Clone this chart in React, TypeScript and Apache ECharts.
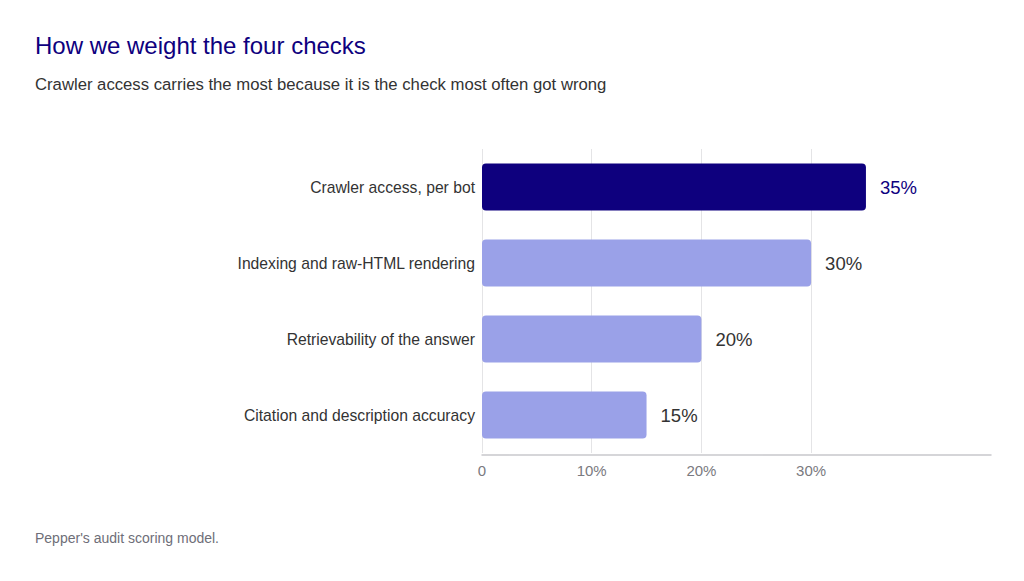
import { useEffect, useRef } from 'react';
import * as echarts from 'echarts';

const categories = [
  'Crawler access, per bot',
  'Indexing and raw-HTML rendering',
  'Retrievability of the answer',
  'Citation and description accuracy',
];
const weights = [35, 30, 20, 15];
const highlighted = [true, false, false, false];

const NAVY = '#0e007e';
const LIGHT = '#9aa1e8';
const GRID = '#e4e4e6';
const FONT = '"Liberation Sans", Arial, Helvetica, sans-serif';

export default function App() {
  const chartRef = useRef<HTMLDivElement>(null);

  useEffect(() => {
    if (!chartRef.current) return;
    const chart = echarts.init(chartRef.current, null, { renderer: 'svg' });

    const barData = weights.map((v, i) => ({
      value: v,
      itemStyle: { color: highlighted[i] ? NAVY : LIGHT },
      label: { color: highlighted[i] ? NAVY : '#333333' },
    }));

    const option: echarts.EChartsOption = {
      animation: false,
      backgroundColor: '#ffffff',
      textStyle: { fontFamily: FONT },
      title: [
        {
          text: 'How we weight the four checks',
          left: 35,
          top: 33,
          padding: 0,
          textStyle: { color: NAVY, fontSize: 24, fontWeight: 'normal', fontFamily: FONT },
        },
        {
          text: 'Crawler access carries the most because it is the check most often got wrong',
          left: 35,
          top: 76,
          padding: 0,
          textStyle: { color: '#333333', fontSize: 16.7, fontWeight: 'normal', fontFamily: FONT },
        },
        {
          text: "Pepper's audit scoring model.",
          left: 35,
          top: 531,
          padding: 0,
          textStyle: { color: '#6e6e78', fontSize: 14, fontWeight: 'normal', fontFamily: FONT },
        },
      ],
      grid: { left: 482, right: 33, top: 149, height: 304 },
      xAxis: {
        type: 'value',
        min: 0,
        max: 46.4,
        interval: 10,
        offset: 2,
        axisLine: { show: true, lineStyle: { color: '#c8c8cc', width: 1.5 } },
        axisTick: { show: false },
        splitLine: {
          show: true,
          lineStyle: {
            color: [GRID, GRID, GRID, GRID, 'transparent', 'transparent'],
            width: 1,
          },
        },
        axisLabel: {
          color: '#7a7a80',
          fontSize: 15,
          margin: 8,
          fontFamily: FONT,
          showMaxLabel: false,
          formatter: (v: number) => (v > 30 ? '' : v === 0 ? '0' : v + '%'),
        },
      },
      yAxis: {
        type: 'category',
        data: categories,
        inverse: true,
        axisLine: { show: false },
        axisTick: { show: false },
        axisLabel: { color: '#333333', fontSize: 15.7, margin: 7, fontFamily: FONT },
      },
      series: [
        {
          type: 'bar',
          data: barData,
          barWidth: '62%',
          itemStyle: { borderRadius: 4 },
          label: {
            show: true,
            position: 'right',
            distance: 14,
            fontSize: 18.5,
            fontFamily: FONT,
            formatter: '{c}%',
          },
        },
      ],
    };

    chart.setOption(option);
    return () => {
      chart.dispose();
    };
  }, []);

  return (
    <div
      ref={chartRef}
      style={{ position: 'fixed', left: 0, top: 0, width: 1024, height: 581 }}
    />
  );
}
